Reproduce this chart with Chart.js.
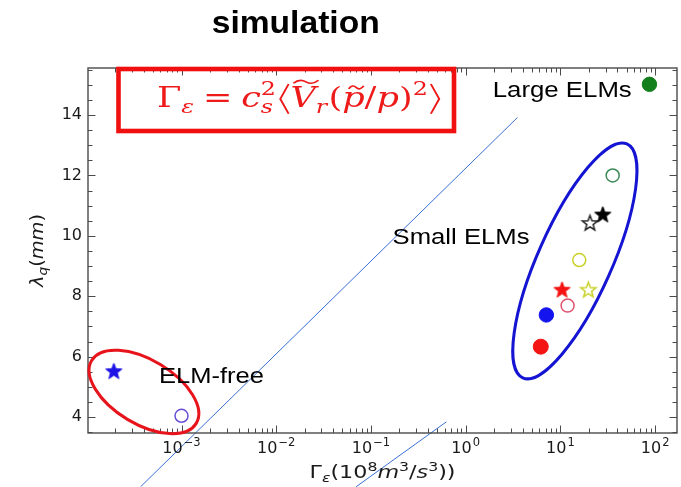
<!DOCTYPE html>
<html>
<head>
<meta charset="utf-8">
<script src="https://cdn.jsdelivr.net/npm/chart.js@4.4.1/dist/chart.umd.min.js"></script>
<style>
  html, body { margin: 0; padding: 0; background: #fff; }
  canvas { display: block; }
</style>
</head>
<body>
<canvas id="c" width="681" height="487"></canvas>
<script>
// Heat-flux width λq versus energy flux Γε for the simulated ELM regimes.

// ELM-free cases: Γε (10^8 m^3/s^3), λq (mm)
const elmFreeGamma  = [1.93e-4, 1.0e-3];
const elmFreeLambda = [5.5, 4.04];

// Small-ELM cases
const smallElmGamma  = [6.2, 7.1, 11.9, 10.4, 19.7, 15.8, 20.5, 28.0, 35.6];
const smallElmLambda = [6.33, 7.38, 7.69, 8.2, 8.2, 9.2, 10.41, 10.69, 12.0];

// Large-ELM case
const largeElmGamma  = [87];
const largeElmLambda = [15.02];

// Two straight guide lines
const guideAGamma  = [3.70e-4, 3.52];
const guideALambda = [1.69, 13.92];
const guideBGamma  = [0.0697, 0.625];
const guideBLambda = [1.69, 3.84];

// Axis ticks
const yTickValues    = [4, 6, 8, 10, 12, 14];
const xTickExponents = [-3, -2, -1, 0, 1, 2];

// Marker styling per point
function starImage(R, fill, stroke, lw) {
  const s = Math.ceil(2 * R + 2 * lw + 2);
  const cv = document.createElement('canvas');
  cv.width = s; cv.height = s;
  const g = cv.getContext('2d');
  g.translate(s / 2, s / 2);
  g.beginPath();
  for (let i = 0; i < 10; i++) {
    const r = i % 2 ? R * 0.42 : R;
    const a = -Math.PI / 2 + i * Math.PI / 5;
    g.lineTo(r * Math.cos(a), r * Math.sin(a));
  }
  g.closePath();
  if (fill) { g.fillStyle = fill; g.fill(); }
  g.lineWidth = lw; g.strokeStyle = stroke; g.lineJoin = 'miter';
  g.stroke();
  return cv;
}
const NONE = 'rgba(255,255,255,0)';

const elmFreeStyle = {
  pointStyle: [starImage(8.5, '#1d12e6', '#1d12e6', 1), 'circle'],
  bg:     ['#1d12e6', NONE],
  border: ['#1d12e6', '#6a4fd6'],
  radius: [8.5, 6.5],
  width:  [1, 1.5]
};
const smallElmStyle = {
  pointStyle: ['circle', 'circle', 'circle',
               starImage(8.5, '#f41414', '#f41414', 1),
               starImage(8, NONE, '#c9d12a', 1.5),
               'circle',
               starImage(8, '#fff', '#222', 1.5),
               starImage(8.5, '#000', '#000', 1),
               'circle'],
  bg:     ['#f41414', '#1414ee', NONE, '#f41414', NONE, NONE, NONE, '#000', NONE],
  border: ['#f41414', '#1414ee', '#e0506c', '#f41414', '#c9d12a', '#c9d12a', '#222', '#000', '#3d8a58'],
  radius: [7.5, 7.2, 6.5, 8.5, 8, 6.5, 8, 8.5, 6.5],
  width:  [1, 1, 1.5, 1, 1.5, 1.5, 1.5, 1, 1.5]
};
const largeElmStyle = {
  pointStyle: ['circle'], bg: ['#127f1c'], border: ['#127f1c'], radius: [7.2], width: [1]
};

function pts(xs, ys) { return xs.map((v, i) => ({ x: v, y: ys[i] })); }
function markerSet(xs, ys, st) {
  return {
    data: pts(xs, ys), showLine: false,
    pointStyle: st.pointStyle, pointBackgroundColor: st.bg, pointBorderColor: st.border,
    pointRadius: st.radius, pointBorderWidth: st.width, pointHoverRadius: st.radius
  };
}
function guideSet(xs, ys) {
  return {
    data: pts(xs, ys), showLine: true, pointRadius: 0, pointHoverRadius: 0,
    borderColor: '#3a6fd6', borderWidth: 1, clip: false, fill: false
  };
}

// Annotations anchored in data coordinates
const notes = [
  { text: 'Large ELMs', gamma: 1.93,    lambda: 14.6, width: 139 },
  { text: 'Small ELMs', gamma: 0.169,   lambda: 9.73, width: 137 },
  { text: 'ELM-free',   gamma: 5.78e-4, lambda: 5.12, width: 105 }
];
const rings = [
  { gamma: 4.01e-4, lambda: 4.83, rx: 61, ry: 32,  tilt: 31, color: '#e8141c' },
  { gamma: 14.2,    lambda: 9.17, rx: 37, ry: 128, tilt: 24, color: '#1414d2' }
];

const SANS  = '"Liberation Sans", Arial, sans-serif';
const DJV   = '"DejaVu Sans", sans-serif';
const SERIF = '"DejaVu Serif", "Liberation Serif", serif';

function drawRuns(ctx, runs, x, y, align, width, color) {
  let total = 0;
  const ws = runs.map(r => {
    ctx.font = r.font;
    const w = ctx.measureText(r.t).width + (r.gap || 0);
    total += w;
    return w;
  });
  const sx = width ? width / total : 1;
  const dw = total * sx;
  const x0 = align === 'center' ? x - dw / 2 : align === 'right' ? x - dw : x;
  ctx.save();
  ctx.translate(x0, y);
  ctx.scale(sx, 1);
  ctx.textAlign = 'left';
  ctx.textBaseline = 'alphabetic';
  ctx.fillStyle = color;
  let cx = 0;
  runs.forEach((r, i) => {
    ctx.font = r.font;
    ctx.fillText(r.t, cx, r.dy || 0);
    cx += ws[i];
  });
  ctx.restore();
}

function drawFormula(ctx, left, baseline, width, color) {
  const F = 28, S = 19;
  const up = s => `${s}px ${SERIF}`;
  const it = s => `italic ${s}px ${SERIF}`;
  const items = [
    { t: 'Γ', f: up(F) },
    { t: 'ε', f: it(S), dy: 6 },
    { gap: 0.25 * F },
    { t: '=', f: up(F) },
    { gap: 0.25 * F },
    { t: 'c', f: it(F) },
    { stack: [{ t: '2', f: up(S), dy: -12 }, { t: 's', f: it(S), dy: 6 }] },
    { gap: 1 },
    { angle: 'l', w: 0.34 * F },
    { t: 'V', f: it(F), tilde: 10, th: 0.9 * F },
    { t: 'r', f: it(S), dy: 6 },
    { gap: 1 },
    { t: '(', f: up(F) },
    { t: 'p', f: it(F), tilde: 6, th: 0.7 * F },
    { t: '/', f: up(F) },
    { t: 'p', f: it(F) },
    { t: ')', f: up(F) },
    { t: '2', f: up(S), dy: -12 },
    { gap: 1 },
    { angle: 'r', w: 0.34 * F }
  ];
  let total = 0;
  items.forEach(o => {
    if (o.gap) o.w = o.gap;
    else if (o.stack) o.w = Math.max(...o.stack.map(s => { ctx.font = s.f; return ctx.measureText(s.t).width; })) + 1;
    else if (!o.angle) { ctx.font = o.f; o.w = ctx.measureText(o.t).width; }
    total += o.w;
  });
  const sx = width / total;
  ctx.save();
  ctx.translate(left, baseline);
  ctx.scale(sx, 1);
  ctx.fillStyle = color; ctx.strokeStyle = color;
  ctx.textBaseline = 'alphabetic'; ctx.textAlign = 'left';
  let cx = 0;
  items.forEach(o => {
    if (o.stack) {
      o.stack.forEach(s => { ctx.font = s.f; ctx.fillText(s.t, cx, s.dy); });
    } else if (o.angle) {
      const top = -0.82 * F, bot = 0.24 * F, mid = (top + bot) / 2;
      ctx.lineWidth = 1.6;
      ctx.beginPath();
      if (o.angle === 'l') {
        ctx.moveTo(cx + o.w * 0.85, top); ctx.lineTo(cx + o.w * 0.15, mid); ctx.lineTo(cx + o.w * 0.85, bot);
      } else {
        ctx.moveTo(cx + o.w * 0.15, top); ctx.lineTo(cx + o.w * 0.85, mid); ctx.lineTo(cx + o.w * 0.15, bot);
      }
      ctx.stroke();
    } else if (o.t) {
      ctx.font = o.f;
      ctx.fillText(o.t, cx, o.dy || 0);
      if (o.tilde) {
        const c = cx + o.w / 2 + 0.08 * F, h = o.tilde, ty = -o.th;
        ctx.lineWidth = 1.6;
        ctx.beginPath();
        ctx.moveTo(c - h, ty + 1.5);
        ctx.quadraticCurveTo(c - h / 2, ty - 3.5, c, ty);
        ctx.quadraticCurveTo(c + h / 2, ty + 3.5, c + h, ty - 1.5);
        ctx.stroke();
      }
    }
    cx += o.w;
  });
  ctx.restore();
}

const overlay = {
  id: 'overlay',
  afterDraw(chart) {
    const { ctx, chartArea: a } = chart;
    const x = chart.scales.x, y = chart.scales.y;
    ctx.save();

    // frame
    ctx.strokeStyle = '#4a4a4a';
    ctx.lineWidth = 1.4;
    ctx.strokeRect(a.left, a.top, a.right - a.left, a.bottom - a.top);

    // inward tick marks on all four sides
    ctx.lineWidth = 1;
    ctx.beginPath();
    x.ticks.forEach(t => {
      const px = Math.round(x.getPixelForValue(t.value)) + 0.5;
      const len = t.major ? 7.5 : 4.5;
      ctx.moveTo(px, a.bottom); ctx.lineTo(px, a.bottom - len);
      ctx.moveTo(px, a.top); ctx.lineTo(px, a.top + len);
    });
    y.ticks.forEach(t => {
      const py = Math.round(y.getPixelForValue(t.value)) + 0.5;
      const len = yTickValues.includes(t.value) ? 7.5 : 4.5;
      ctx.moveTo(a.left, py); ctx.lineTo(a.left + len, py);
      ctx.moveTo(a.right, py); ctx.lineTo(a.right - len, py);
    });
    ctx.stroke();

    // x tick labels as powers of ten
    xTickExponents.forEach(e => {
      const px = x.getPixelForValue(Math.pow(10, e));
      const sup = (e < 0 ? '\u2212' : '') + Math.abs(e);
      drawRuns(ctx, [
        { t: '10', font: `16px ${DJV}`, gap: 1 },
        { t: sup, font: `11.5px ${DJV}`, dy: -7 }
      ], px, 452.5, 'center', null, '#1a1a1a');
    });

    // axis titles
    drawRuns(ctx, [
      { t: 'Γ', font: `17px ${DJV}` },
      { t: 'ε', font: `oblique 12px ${DJV}`, dy: 4 },
      { t: '(10', font: `17px ${DJV}` },
      { t: '8', font: `12px ${DJV}`, dy: -7 },
      { t: 'm', font: `oblique 17px ${DJV}` },
      { t: '3', font: `12px ${DJV}`, dy: -7 },
      { t: '/', font: `17px ${DJV}` },
      { t: 's', font: `oblique 17px ${DJV}` },
      { t: '3', font: `12px ${DJV}`, dy: -7 },
      { t: '))', font: `17px ${DJV}` }
    ], (a.left + a.right) / 2, 478, 'center', 146, '#1a1a1a');

    ctx.save();
    ctx.translate(43, (a.top + a.bottom) / 2);
    ctx.rotate(-Math.PI / 2);
    drawRuns(ctx, [
      { t: 'λ', font: `oblique 17px ${DJV}` },
      { t: 'q', font: `oblique 12px ${DJV}`, dy: 4 },
      { t: '(', font: `17px ${DJV}` },
      { t: 'mm', font: `oblique 17px ${DJV}` },
      { t: ')', font: `17px ${DJV}` }
    ], 0, 0, 'center', 73, '#1a1a1a');
    ctx.restore();

    // title
    drawRuns(ctx, [{ t: 'simulation', font: `bold 31px ${SANS}` }], 211.7, 33, 'left', 168, '#000');

    // group outlines
    rings.forEach(r => {
      ctx.beginPath();
      ctx.ellipse(x.getPixelForValue(r.gamma), y.getPixelForValue(r.lambda),
                  r.rx, r.ry, r.tilt * Math.PI / 180, 0, Math.PI * 2);
      ctx.strokeStyle = r.color;
      ctx.lineWidth = 3;
      ctx.stroke();
    });

    // group labels
    notes.forEach(n => {
      drawRuns(ctx, [{ t: n.text, font: `22px ${SANS}` }],
               x.getPixelForValue(n.gamma), y.getPixelForValue(n.lambda), 'left', n.width, '#000');
    });

    // formula box
    ctx.strokeStyle = '#f01010';
    ctx.lineWidth = 4.6;
    ctx.strokeRect(118.5, 69, 335.5, 62);
    drawFormula(ctx, 157, 107, 284, '#ee1a1a');

    ctx.restore();
  }
};

new Chart(document.getElementById('c'), {
  type: 'scatter',
  data: {
    datasets: [
      markerSet(largeElmGamma, largeElmLambda, largeElmStyle),
      markerSet(smallElmGamma, smallElmLambda, smallElmStyle),
      markerSet(elmFreeGamma, elmFreeLambda, elmFreeStyle),
      guideSet(guideAGamma, guideALambda),
      guideSet(guideBGamma, guideBLambda)
    ]
  },
  options: {
    responsive: false,
    animation: false,
    events: [],
    layout: { autoPadding: false, padding: { left: 0, right: 4, top: 68, bottom: 0 } },
    plugins: { legend: { display: false }, tooltip: { enabled: false }, title: { display: false } },
    scales: {
      x: {
        type: 'logarithmic',
        min: 1.03e-4,
        max: 170,
        grid: { display: false, drawTicks: false },
        border: { display: false },
        ticks: { display: false },
        afterBuildTicks(s) {
          const t = [];
          for (let e = -4; e <= 2; e++) {
            for (let m = 1; m <= 9; m++) {
              const v = m * Math.pow(10, e);
              if (v >= s.min && v <= s.max) t.push({ value: v, major: m === 1 });
            }
          }
          s.ticks = t;
        },
        afterFit(s) { s.height = 54; }
      },
      y: {
        type: 'linear',
        min: 3.47,
        max: 15.56,
        grid: { display: false, drawTicks: false, tickLength: 0 },
        border: { display: false },
        ticks: {
          font: { family: 'DejaVu Sans', size: 16 },
          color: '#1a1a1a',
          padding: 6,
          autoSkip: false,
          callback: v => yTickValues.includes(v) ? String(v) : ''
        },
        afterBuildTicks(s) {
          const t = [];
          for (let v = 3.5; v <= 15.5; v += 0.5) t.push({ value: v });
          s.ticks = t;
        },
        afterFit(s) { s.width = 88; }
      }
    }
  },
  plugins: [overlay]
});
</script>
</body>
</html>
